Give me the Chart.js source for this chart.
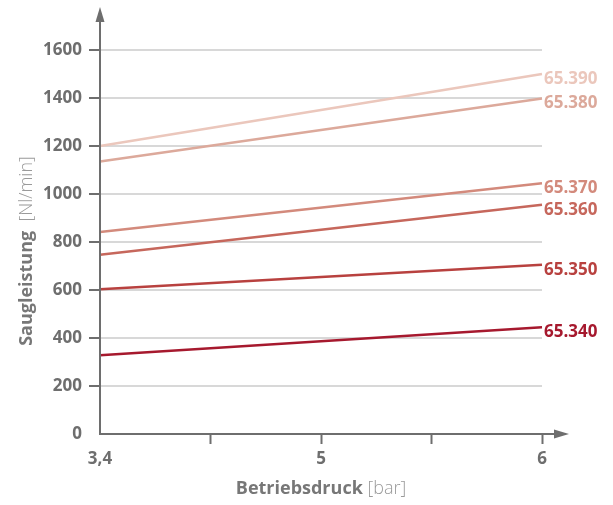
<!DOCTYPE html>
<html><head><meta charset="utf-8">
<script src="https://cdn.jsdelivr.net/npm/chart.js@4/dist/chart.umd.min.js"></script>
<style>html,body{margin:0;padding:0;background:#fff}#wrap{width:613px;height:505px}</style>
</head><body><div id="wrap"><canvas id="c" width="613" height="505"></canvas></div>
<script>
const categories = ['3,4', '', '5', '', '6'];
const seriesNames = ['65.390', '65.380', '65.370', '65.360', '65.350', '65.340'];
const s65390 = [1200, null, null, null, 1500];
const s65380 = [1135, null, null, null, 1398];
const s65370 = [842, null, null, null, 1045];
const s65360 = [747, null, null, null, 955];
const s65350 = [603, null, null, null, 705];
const s65340 = [328, null, null, null, 445];
const seriesColors = ['#ebc7bc', '#dca99b', '#d38a7c', '#c6675c', '#b8413f', '#a6192e'];
const yTicks = [0, 200, 400, 600, 800, 1000, 1200, 1400, 1600];

const allSeries = [s65390, s65380, s65370, s65360, s65350, s65340];
const FONT = '"Open Sans", sans-serif';

const decor = {
  id: 'decor',
  afterDraw(chart) {
    const ctx = chart.ctx;
    const a = chart.chartArea;
    const x0 = a.left, y0 = a.bottom;
    ctx.save();
    ctx.strokeStyle = '#6e6e6e';
    ctx.fillStyle = '#6e6e6e';
    ctx.lineWidth = 2;
    // y axis
    ctx.beginPath(); ctx.moveTo(x0, y0 + 1); ctx.lineTo(x0, 18); ctx.stroke();
    ctx.beginPath(); ctx.moveTo(x0, 7); ctx.lineTo(x0 - 4.5, 22); ctx.lineTo(x0 + 4.5, 22); ctx.closePath(); ctx.fill();
    // x axis
    ctx.beginPath(); ctx.moveTo(x0 - 1, y0); ctx.lineTo(558, y0); ctx.stroke();
    ctx.beginPath(); ctx.moveTo(569, y0); ctx.lineTo(554, y0 - 4.5); ctx.lineTo(554, y0 + 4.5); ctx.closePath(); ctx.fill();
    // series labels
    ctx.font = 'bold 17px ' + FONT;
    ctx.textBaseline = 'middle';
    ctx.textAlign = 'left';
    chart.data.datasets.forEach((ds, i) => {
      const meta = chart.getDatasetMeta(i);
      const pt = meta.data[meta.data.length - 1];
      ctx.fillStyle = ds.borderColor;
      ctx.fillText(ds.label, pt.x + 2, pt.y + 5);
    });
    // x title
    ctx.textBaseline = 'alphabetic';
    const bold = 'bold 18px ' + FONT, light = '300 18px ' + FONT;
    ctx.font = bold;
    const t1 = 'Betriebsdruck ', t2 = '[bar]';
    const w1 = ctx.measureText(t1).width;
    ctx.font = light;
    const w2 = ctx.measureText(t2).width;
    let sx = 321 - (w1 + w2) / 2;
    ctx.font = bold; ctx.fillStyle = '#777777';
    ctx.fillText(t1, sx, 494);
    ctx.font = light; ctx.fillStyle = '#9a9a9a';
    ctx.fillText(t2, sx + w1, 494);
    // y title
    ctx.translate(32, 251);
    ctx.rotate(-Math.PI / 2);
    const u1 = 'Saugleistung  ', u2 = '[Nl/min]';
    ctx.font = bold;
    const v1 = ctx.measureText(u1).width;
    ctx.font = light;
    const v2 = ctx.measureText(u2).width;
    let sy = -(v1 + v2) / 2;
    ctx.font = bold; ctx.fillStyle = '#777777';
    ctx.fillText(u1, sy, 0);
    ctx.font = light; ctx.fillStyle = '#9a9a9a';
    ctx.fillText(u2, sy + v1, 0);
    ctx.restore();
  }
};

new Chart(document.getElementById('c'), {
  type: 'line',
  data: {
    labels: categories,
    datasets: allSeries.map((d, i) => ({
      label: seriesNames[i],
      data: d,
      borderColor: seriesColors[i],
      borderWidth: 2.5,
      pointRadius: 0,
      spanGaps: true,
      tension: 0
    }))
  },
  options: {
    responsive: false,
    animation: false,
    layout: { padding: { left: 0, right: 71, top: 50, bottom: 0 } },
    plugins: { legend: { display: false }, tooltip: { enabled: false } },
    scales: {
      x: {
        type: 'category',
        offset: false,
        afterFit(s) { s.height = 71; },
        border: { display: false },
        grid: {
          drawOnChartArea: false,
          tickLength: 10,
          tickWidth: 2,
          tickColor: (c) => c.index === 0 ? 'rgba(0,0,0,0)' : '#6e6e6e'
        },
        ticks: {
          autoSkip: false,
          maxRotation: 0,
          padding: 5,
          color: '#6e6e6e',
          font: { family: FONT, size: 17, weight: 'bold' }
        }
      },
      y: {
        min: 0, max: 1600,
        afterFit(s) { s.width = 100; },
        afterBuildTicks(s) { s.ticks = yTicks.map(v => ({ value: v })); },
        border: { display: false },
        grid: {
          color: '#d8d8d8',
          lineWidth: 2,
          tickLength: 11,
          tickWidth: 2,
          tickColor: (c) => c.tick && c.tick.value === 0 ? 'rgba(0,0,0,0)' : '#6e6e6e'
        },
        ticks: {
          padding: 7,
          color: '#6e6e6e',
          callback: (v) => String(v),
          font: { family: FONT, size: 17, weight: 'bold' }
        }
      }
    }
  },
  plugins: [decor]
});
</script>
</body></html>
